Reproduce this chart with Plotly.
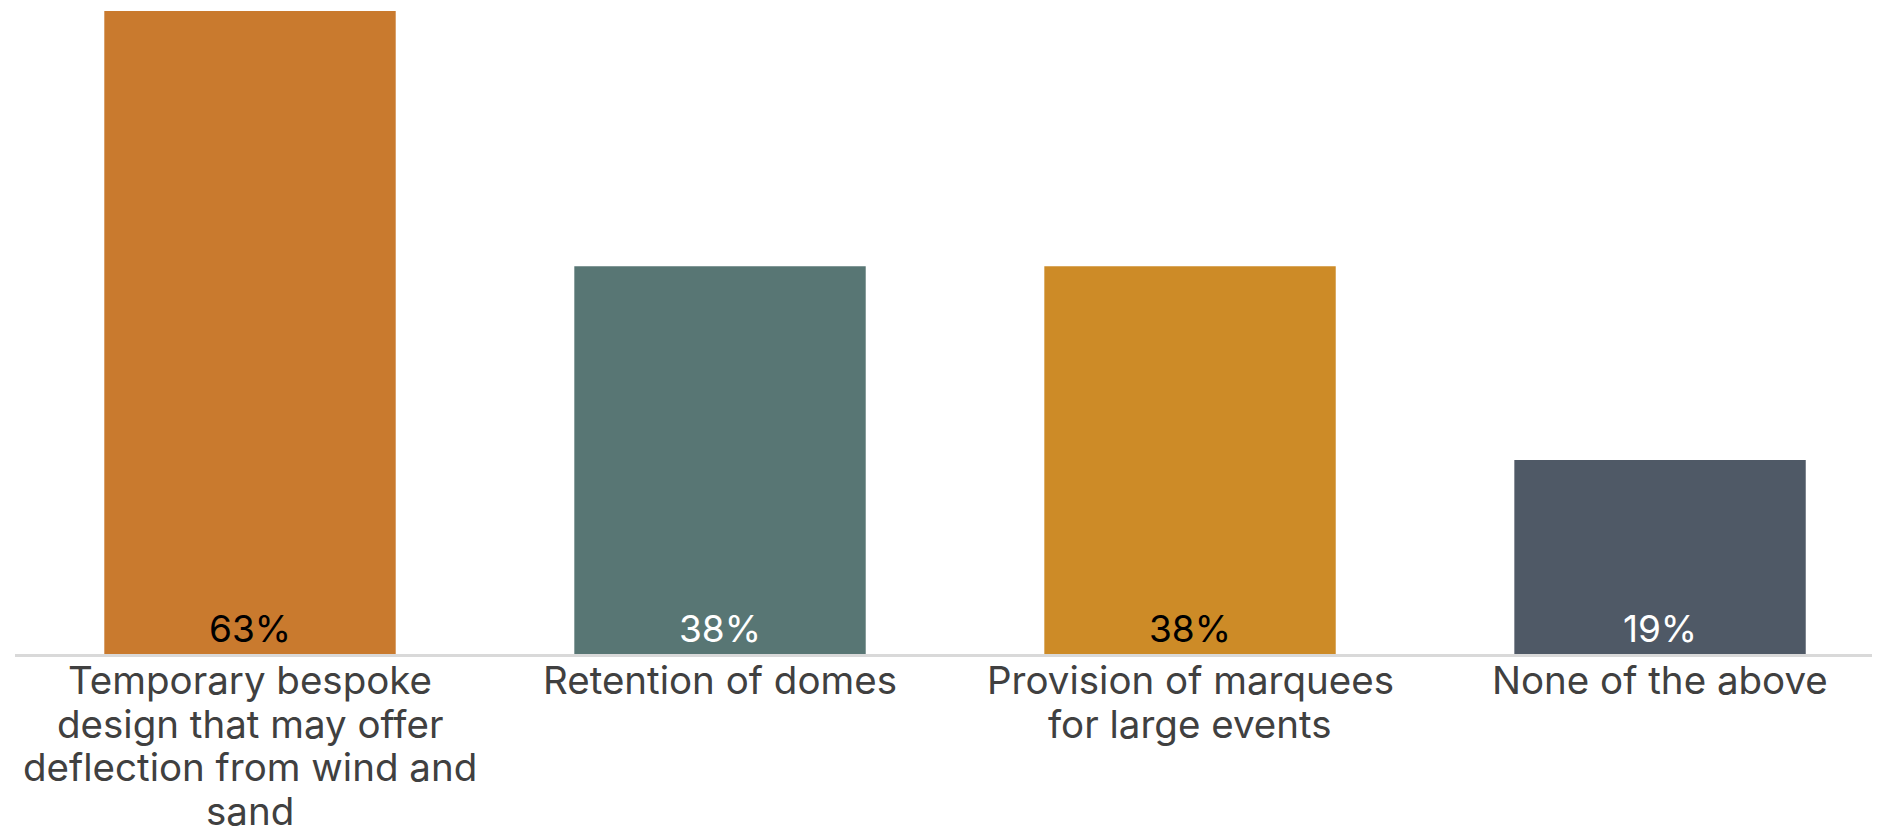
import plotly.graph_objects as go

categories = [
    "Temporary bespoke<br>design that may offer<br>deflection from wind and<br>sand",
    "Retention of domes",
    "Provision of marquees<br>for large events",
    "None of the above",
]
values = [63, 38, 38, 19]
labels = ["63%", "38%", "38%", "19%"]
bar_colors = ["#C97A2E", "#587674", "#CD8B27", "#4F5966"]
label_colors = ["#000000", "#FFFFFF", "#000000", "#FFFFFF"]

FONT = "Inter"
x_idx = list(range(len(categories)))

fig = go.Figure(
    go.Bar(
        x=x_idx,
        y=values,
        text=labels,
        textposition="inside",
        insidetextanchor="start",
        textangle=0,
        textfont=dict(family=FONT, size=37, color=label_colors),
        marker=dict(color=bar_colors, line=dict(width=0)),
        width=0.62,
    )
)

# category labels, one annotation per line to mimic tight line spacing
line_step = 43.5
first_shift = 1
for i, cat in enumerate(categories):
    for j, line in enumerate(cat.split("<br>")):
        fig.add_annotation(
            x=i, xref="x", y=0, yref="y",
            text=line, showarrow=False,
            xanchor="center", yanchor="top",
            yshift=-(first_shift + j * line_step),
            font=dict(family=FONT, size=38.5, color="#404040"),
        )

fig.update_layout(
    width=1880,
    height=829,
    margin=dict(l=7, r=8, t=3, b=183, autoexpand=False),
    paper_bgcolor="white",
    plot_bgcolor="white",
    showlegend=False,
    xaxis=dict(
        tickmode="array",
        tickvals=x_idx,
        showticklabels=False,
        automargin=False,
        range=[-0.5, 3.468],
        showline=True,
        linecolor="#D9D9D9",
        linewidth=3,
        showgrid=False,
        zeroline=False,
        ticks="",
    ),
    yaxis=dict(
        range=[0, 63],
        visible=False,
        automargin=False,
        showgrid=False,
        zeroline=False,
    ),
)

fig.write_html("out.html")
